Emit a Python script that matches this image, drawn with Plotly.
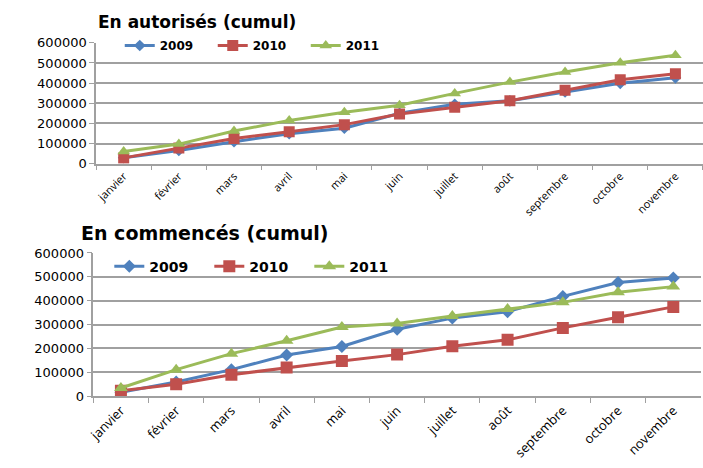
import plotly.graph_objects as go

months = ["janvier", "février", "mars", "avril", "mai", "juin", "juillet",
          "août", "septembre", "octobre", "novembre"]
years = ["2009", "2010", "2011"]

aut_2009 = [30000, 66000, 109000, 149000, 176000, 250000, 295000, 312000, 356000, 399000, 426000]
aut_2010 = [29000, 78000, 125000, 159000, 194000, 247000, 280000, 312000, 365000, 417000, 446000]
aut_2011 = [61000, 97500, 162000, 215000, 255000, 290000, 349000, 405000, 455000, 501000, 538000]

com_2009 = [16000, 59000, 111000, 172000, 208000, 280000, 327000, 354000, 418000, 476000, 495000]
com_2010 = [23000, 50000, 90000, 120000, 147000, 174000, 209000, 236000, 286000, 331000, 374000]
com_2011 = [34000, 111000, 178000, 232000, 290000, 304000, 336000, 365000, 393000, 435000, 459000]

y_ticks = [0, 100000, 200000, 300000, 400000, 500000, 600000]

colors = ["#4F81BD", "#C0504D", "#9BBB59"]
symbols = ["diamond", "square", "triangle-up"]
msizes = [9, 11, 11]

FONT = "DejaVu Sans"
fig = go.Figure()

for i, (yr, vals) in enumerate(zip(years, [aut_2009, aut_2010, aut_2011])):
    fig.add_trace(go.Scatter(
        x=months, y=vals, name=yr, mode="lines+markers",
        line=dict(color=colors[i], width=3),
        marker=dict(symbol=symbols[i], size=msizes[i], color=colors[i]),
        xaxis="x", yaxis="y", legend="legend"))

for i, (yr, vals) in enumerate(zip(years, [com_2009, com_2010, com_2011])):
    fig.add_trace(go.Scatter(
        x=months, y=vals, name=yr, mode="lines+markers",
        line=dict(color=colors[i], width=3),
        marker=dict(symbol=symbols[i], size=msizes[i] + 1, color=colors[i]),
        xaxis="x2", yaxis="y2", legend="legend2"))

grid = "#A0A0A0"
xcommon = dict(type="category", range=[-0.5, 10.5], tickson="boundaries",
               ticks="outside", ticklen=5, tickcolor=grid, showline=True,
               linecolor=grid, linewidth=1.5, showgrid=False, tickangle=-45,
               fixedrange=True)
ycommon = dict(range=[0, 600000], tickvals=y_ticks, tickformat="d",
               showgrid=True, gridcolor=grid, gridwidth=1.5, showline=True,
               linecolor=grid, linewidth=1.5, ticks="outside", ticklen=5,
               tickcolor=grid, zeroline=False, fixedrange=True)

fig.update_layout(
    width=703, height=468,
    margin=dict(l=0, r=0, t=0, b=0),
    paper_bgcolor="white", plot_bgcolor="white",
    font=dict(family=FONT, color="#000000"),
    xaxis=dict(xcommon, domain=[0.128, 1.0], anchor="y",
               tickfont=dict(family="Open Sans", size=11)),
    yaxis=dict(ycommon, domain=[0.654, 0.921], anchor="x",
               tickfont=dict(family=FONT, size=13)),
    xaxis2=dict(xcommon, domain=[0.124, 0.997], anchor="y2",
                tickfont=dict(family="Open Sans", size=13)),
    yaxis2=dict(ycommon, domain=[0.141, 0.457], anchor="x2",
                tickfont=dict(family=FONT, size=13)),
    legend=dict(orientation="h", x=0.162, y=0.947, xanchor="left", yanchor="top",
                bgcolor="rgba(0,0,0,0)", font=dict(family=FONT, size=12, color="#000"),
                entrywidth=48, itemwidth=30),
    legend2=dict(orientation="h", x=0.147, y=0.462, xanchor="left", yanchor="top",
                 bgcolor="rgba(0,0,0,0)", font=dict(family=FONT, size=14, color="#000"),
                 entrywidth=55, itemwidth=30),
    annotations=[
        dict(text="<b>En autorisés (cumul)</b>", x=192 / 703, y=1 - 15 / 468,
             xref="paper", yref="paper", showarrow=False, xanchor="center",
             yanchor="middle", font=dict(family=FONT, size=17)),
        dict(text="<b>En commencés (cumul)</b>", x=200 / 703, y=1 - 233 / 468,
             xref="paper", yref="paper", showarrow=False, xanchor="center",
             yanchor="middle", font=dict(family=FONT, size=19)),
    ],
)
fig.update_layout(legend_font_weight="bold", legend2_font_weight="bold")

fig.write_html("out.html")
